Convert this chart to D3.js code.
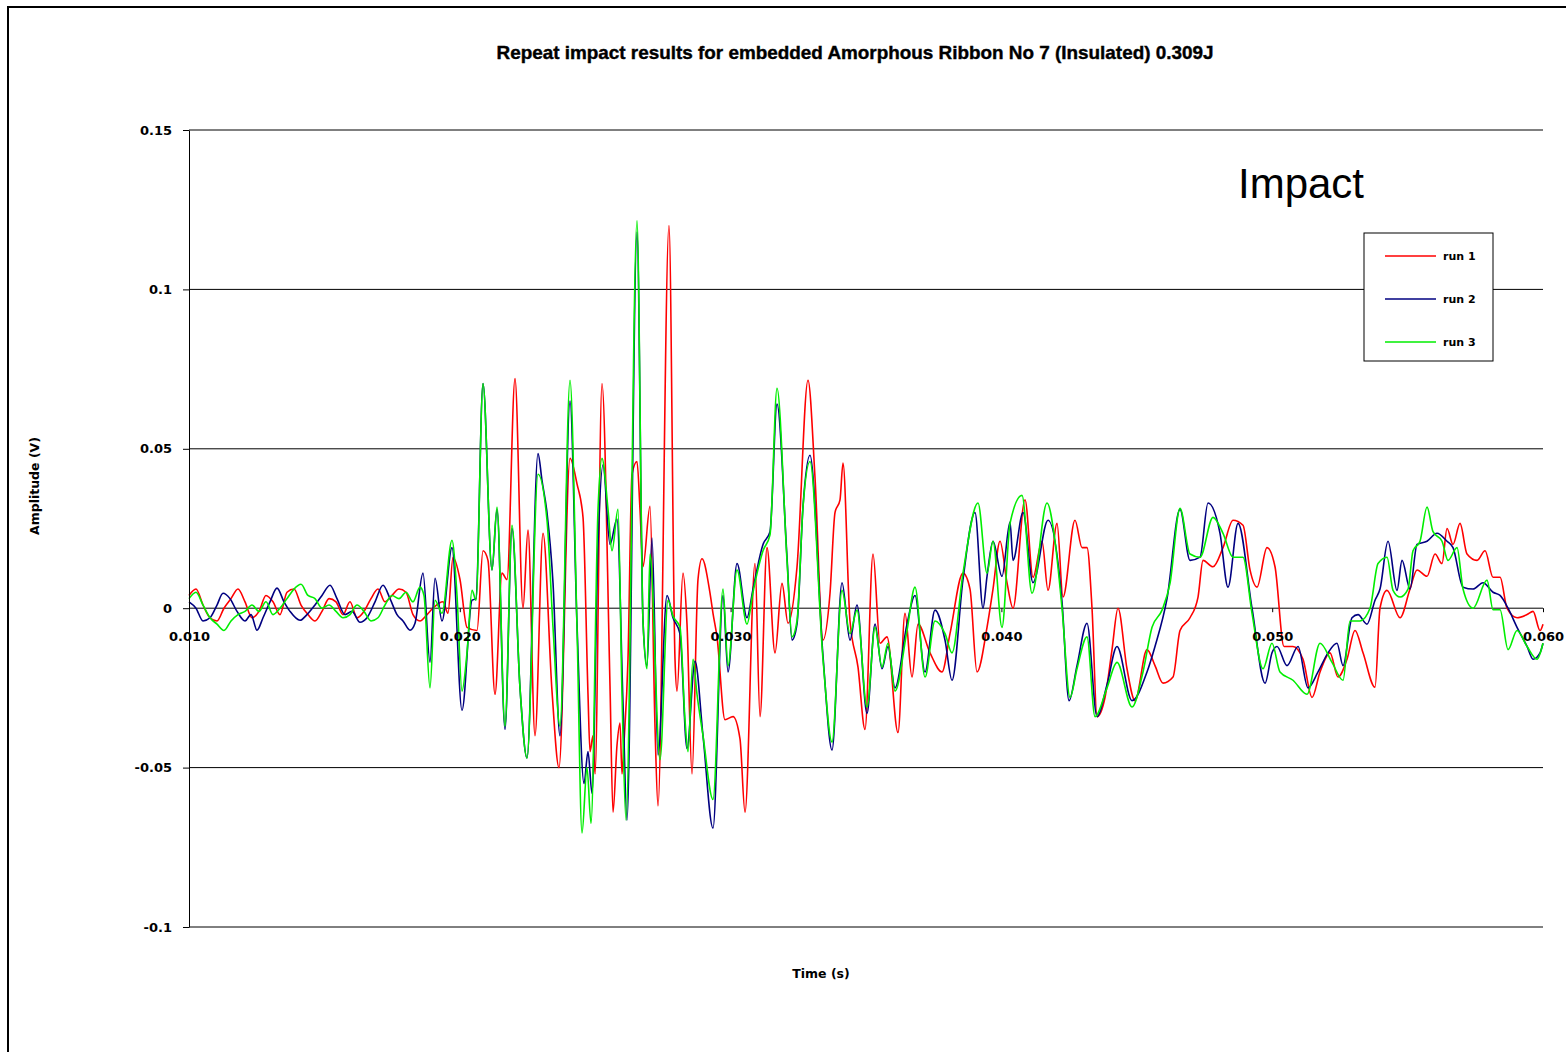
<!DOCTYPE html>
<html>
<head>
<meta charset="utf-8">
<script src="https://cdn.jsdelivr.net/npm/d3@7"></script>
<style>
  body { margin: 0; background: #fff; }
  svg { display: block; }
</style>
</head>
<body>
<svg width="1566" height="1052"></svg>
<script>
// [time (s), amplitude (V)]
const run1 = [
  [0.010000,0.004],[0.010258,0.006],[0.010517,0.001],[0.010775,-0.003],[0.011034,-0.004],[0.011292,0.000],
  [0.011551,0.003],[0.011809,0.006],[0.012068,0.002],[0.012326,-0.003],[0.012585,-0.001],[0.012843,0.004],
  [0.013102,0.002],[0.013360,-0.002],[0.013619,0.005],[0.013877,0.006],[0.014136,0.001],[0.014394,-0.002],
  [0.014653,-0.004],[0.014911,-0.001],[0.015170,0.003],[0.015428,0.002],[0.015687,-0.002],[0.015945,0.002],
  [0.016204,-0.003],[0.016462,-0.001],[0.016721,0.003],[0.016979,0.006],[0.017238,0.002],[0.017496,0.004],
  [0.017755,0.006],[0.018013,0.005],[0.018272,-0.002],[0.018530,-0.004],[0.018789,-0.002],[0.019010,0.000],
  [0.019380,0.002],[0.019564,-0.0016],[0.019749,0.016],[0.020007,0.009],[0.020266,-0.006],[0.020635,-0.007],
  [0.020857,0.018],[0.021041,0.015],[0.021300,-0.027],[0.021558,0.011],[0.021743,0.009],[0.022039,0.072],
  [0.022334,0.000],[0.022519,0.0245],[0.022777,-0.040],[0.023073,0.0235],[0.023405,-0.026],[0.023663,-0.050],
  [0.024070,0.047],[0.024328,0.039],[0.024550,0.0285],[0.024734,-0.027],[0.024808,-0.045],[0.024919,-0.040],
  [0.024993,-0.052],[0.025251,0.0705],[0.025547,-0.0245],[0.025657,-0.064],[0.025805,-0.043],[0.025916,-0.036],
  [0.025990,-0.052],[0.026064,-0.042],[0.026211,-0.016],[0.026359,0.042],[0.026544,0.046],[0.026654,0.031],
  [0.026765,0.013],[0.027024,0.032],[0.027208,-0.037],[0.027319,-0.062],[0.027725,0.120],[0.027947,-0.016],
  [0.028021,-0.026],[0.028242,0.011],[0.028390,-0.005],[0.028575,-0.052],[0.028796,0.009],[0.028944,0.0155],
  [0.029240,0.0047],[0.029350,-0.0016],[0.029498,-0.009],[0.029793,-0.035],[0.030089,-0.034],[0.030347,-0.041],
  [0.030532,-0.064],[0.030901,0.014],[0.031086,-0.034],[0.031344,0.019],[0.031640,-0.014],[0.031898,0.0078],
  [0.032120,-0.0047],[0.032452,0.0129],[0.032858,0.0715],[0.033117,0.041],[0.033412,-0.010],[0.033671,0.0047],
  [0.033855,0.030],[0.034040,0.034],[0.034151,0.0455],[0.034409,-0.004],[0.034705,-0.0185],[0.034963,-0.038],
  [0.035259,0.017],[0.035517,-0.011],[0.035776,-0.009],[0.036182,-0.039],[0.036440,-0.0016],[0.036699,-0.0216],
  [0.036921,-0.005],[0.037364,-0.014],[0.037807,-0.020],[0.038102,-0.008],[0.038582,0.011],[0.038841,0.006],
  [0.039099,-0.020],[0.039469,-0.006],[0.039690,0.006],[0.039949,0.021],[0.040207,0.008],[0.040429,0.000],
  [0.040872,0.034],[0.041167,0.0097],[0.041500,0.021],[0.041721,0.0056],[0.042054,0.0266],[0.042275,0.0035],
  [0.042718,0.0276],[0.042977,0.019],[0.043161,0.019],[0.043346,0.000],[0.043531,-0.034],[0.043826,-0.028],
  [0.044085,-0.013],[0.044306,0.000],[0.044638,-0.019],[0.044934,-0.029],[0.045377,-0.013],[0.045672,-0.018],
  [0.045968,-0.0235],[0.046337,-0.0216],[0.046596,-0.007],[0.046965,-0.003],[0.047261,0.0035],[0.047445,0.015],
  [0.047814,0.013],[0.048184,0.019],[0.048553,0.0276],[0.048922,0.026],[0.049181,0.012],[0.049439,0.0066],
  [0.049808,0.019],[0.050104,0.013],[0.050436,-0.012],[0.050768,-0.012],[0.051138,-0.016],[0.051470,-0.028],
  [0.051766,-0.020],[0.052135,-0.014],[0.052430,-0.0216],[0.052763,-0.016],[0.053058,-0.007],[0.053354,-0.014],
  [0.053797,-0.0248],[0.053981,0.000],[0.054240,0.0056],[0.054720,-0.003],[0.055089,0.006],[0.055348,0.012],
  [0.055717,0.010],[0.056012,0.017],[0.056271,0.014],[0.056456,0.025],[0.056677,0.020],[0.056936,0.0266],
  [0.057194,0.017],[0.057564,0.015],[0.057860,0.018],[0.058155,0.0097],[0.058414,0.0097],[0.058672,0.000],
  [0.059041,-0.003],[0.059411,-0.002],[0.059633,-0.001],[0.059891,-0.007],[0.060000,-0.005]
];

const run2 = [
  [0.010000,0.002],[0.010258,0.000],[0.010517,-0.004],[0.010775,-0.003],[0.011034,0.001],[0.011256,0.0047],
  [0.011514,0.003],[0.011773,-0.001],[0.012068,-0.004],[0.012290,-0.002],[0.012511,-0.0069],[0.012733,-0.003],
  [0.012991,0.002],[0.013250,0.0063],[0.013508,0.002],[0.013730,-0.001],[0.014099,-0.0038],[0.014358,-0.002],
  [0.014653,0.001],[0.014911,0.004],[0.015207,0.0072],[0.015465,0.003],[0.015761,-0.002],[0.016019,-0.001],
  [0.016315,-0.0044],[0.016573,-0.003],[0.016869,0.002],[0.017164,0.0072],[0.017423,0.003],[0.017681,-0.002],
  [0.017903,-0.004],[0.018161,-0.0069],[0.018346,-0.0047],[0.018641,0.011],[0.018900,-0.017],[0.019084,0.0094],
  [0.019343,-0.004],[0.019712,0.019],[0.020081,-0.032],[0.020451,0.0025],[0.020598,0.003],[0.020857,0.0705],
  [0.021189,0.012],[0.021374,0.031],[0.021669,-0.038],[0.021928,0.025],[0.022223,-0.025],[0.022482,-0.047],
  [0.022888,0.0485],[0.023036,0.040],[0.023220,0.030],[0.023442,0.008],[0.023700,-0.040],[0.024070,0.065],
  [0.024328,-0.005],[0.024587,-0.055],[0.024734,-0.045],[0.024882,-0.058],[0.025104,0.020],[0.025288,0.045],
  [0.025547,0.020],[0.025805,0.028],[0.026027,-0.030],[0.026174,-0.0665],[0.026544,0.118],[0.026765,-0.004],
  [0.026913,-0.018],[0.027098,0.022],[0.027319,-0.046],[0.027652,0.004],[0.027873,-0.003],[0.028132,-0.008],
  [0.028390,-0.044],[0.028686,-0.0166],[0.028981,-0.040],[0.029350,-0.069],[0.029720,0.004],[0.029904,-0.020],
  [0.030237,0.014],[0.030606,-0.003],[0.030827,0.006],[0.031197,0.020],[0.031455,0.024],[0.031714,0.064],
  [0.032083,0.016],[0.032268,-0.010],[0.032452,-0.005],[0.032674,0.032],[0.032932,0.048],[0.033412,-0.015],
  [0.033745,-0.0445],[0.034114,0.008],[0.034409,-0.010],[0.034668,0.001],[0.035037,-0.033],[0.035333,-0.005],
  [0.035591,-0.019],[0.035813,-0.012],[0.036071,-0.025],[0.036514,-0.005],[0.036810,0.004],[0.037179,-0.020],
  [0.037548,-0.0006],[0.037918,-0.010],[0.038176,-0.0226],[0.038582,0.009],[0.039025,0.030],[0.039321,0.000],
  [0.039469,0.010],[0.039690,0.021],[0.040022,0.010],[0.040318,0.027],[0.040429,0.015],[0.040798,0.030],
  [0.041167,0.008],[0.041721,0.0276],[0.042238,0.002],[0.042497,-0.029],[0.042792,-0.018],[0.043161,-0.0047],
  [0.043531,-0.034],[0.043900,-0.024],[0.044269,-0.012],[0.044823,-0.029],[0.045377,-0.020],[0.045672,-0.012],
  [0.046116,0.003],[0.046596,0.031],[0.046965,0.015],[0.047334,0.016],[0.047630,0.033],[0.048073,0.0235],
  [0.048368,0.0066],[0.048738,0.0266],[0.049255,0.000],[0.049735,-0.0235],[0.049993,-0.014],[0.050178,-0.012],
  [0.050547,-0.018],[0.050953,-0.012],[0.051322,-0.025],[0.051692,-0.020],[0.052061,-0.014],[0.052393,-0.011],
  [0.052615,-0.018],[0.052947,-0.003],[0.053169,-0.002],[0.053501,-0.005],[0.053797,0.0025],[0.053981,0.006],
  [0.054277,0.021],[0.054609,0.0056],[0.054794,0.015],[0.055089,0.006],[0.055348,0.020],[0.055717,0.021],
  [0.056086,0.0235],[0.056456,0.021],[0.056677,0.019],[0.057047,0.0066],[0.057416,0.006],[0.057786,0.008],
  [0.058155,0.005],[0.058414,0.004],[0.058709,0.000],[0.059041,-0.006],[0.059411,-0.012],[0.059633,-0.016],
  [0.059891,-0.014],[0.060000,-0.011]
];

const run3 = [
  [0.010000,0.003],[0.010258,0.005],[0.010517,0.001],[0.010775,-0.003],[0.011034,-0.005],[0.011292,-0.007],
  [0.011551,-0.004],[0.011809,-0.002],[0.012068,-0.001],[0.012326,0.001],[0.012585,-0.001],[0.012843,0.002],
  [0.013102,-0.002],[0.013360,0.000],[0.013619,0.003],[0.013877,0.006],[0.014136,0.0075],[0.014394,0.004],
  [0.014653,0.003],[0.014911,0.000],[0.015170,0.001],[0.015428,-0.001],[0.015687,-0.003],[0.015945,-0.002],
  [0.016204,0.001],[0.016462,-0.001],[0.016721,-0.004],[0.016979,-0.003],[0.017238,0.001],[0.017496,0.004],
  [0.017755,0.003],[0.018013,0.005],[0.018272,0.002],[0.018530,0.0066],[0.018678,0.004],[0.018900,-0.025],
  [0.019084,0.0025],[0.019343,-0.0016],[0.019712,0.0213],[0.019897,0.004],[0.020081,-0.026],[0.020266,-0.014],
  [0.020451,0.0056],[0.020598,0.0025],[0.020857,0.0705],[0.021189,0.012],[0.021374,0.0317],[0.021669,-0.037],
  [0.021928,0.026],[0.022223,-0.025],[0.022482,-0.047],[0.022888,0.042],[0.023220,0.0276],[0.023442,-0.006],
  [0.023700,-0.037],[0.024070,0.0715],[0.024328,-0.006],[0.024513,-0.0705],[0.024697,-0.050],[0.024845,-0.0675],
  [0.025104,0.031],[0.025251,0.047],[0.025473,0.031],[0.025620,0.018],[0.025842,0.031],[0.025990,-0.027],
  [0.026138,-0.0665],[0.026544,0.1215],[0.026765,-0.004],[0.026913,-0.019],[0.027024,0.017],[0.027393,-0.0475],
  [0.027688,0.0025],[0.027873,-0.0025],[0.028132,-0.006],[0.028316,-0.035],[0.028427,-0.045],[0.028612,-0.016],
  [0.028759,-0.027],[0.028981,-0.040],[0.029350,-0.060],[0.029720,0.006],[0.029904,-0.018],[0.030237,0.012],
  [0.030606,-0.005],[0.030827,0.005],[0.031197,0.018],[0.031455,0.023],[0.031714,0.069],[0.032083,0.015],
  [0.032268,-0.009],[0.032452,-0.004],[0.032674,0.0317],[0.032932,0.046],[0.033412,-0.016],[0.033745,-0.042],
  [0.034114,0.0056],[0.034409,-0.008],[0.034668,-0.0006],[0.035037,-0.031],[0.035333,-0.006],[0.035591,-0.0185],
  [0.035813,-0.011],[0.036071,-0.026],[0.036514,-0.007],[0.036810,0.0066],[0.037179,-0.0216],[0.037548,-0.004],
  [0.037918,-0.008],[0.038176,-0.014],[0.038582,0.011],[0.039136,0.033],[0.039469,0.011],[0.039690,0.021],
  [0.040022,-0.006],[0.040318,0.0266],[0.040761,0.0354],[0.041130,0.0047],[0.041684,0.033],[0.041980,0.021],
  [0.042238,0.000],[0.042534,-0.028],[0.042792,-0.019],[0.043161,-0.009],[0.043457,-0.034],[0.043900,-0.025],
  [0.044269,-0.017],[0.044823,-0.031],[0.045229,-0.020],[0.045562,-0.006],[0.045931,-0.0006],[0.046226,0.0078],
  [0.046596,0.0313],[0.046965,0.017],[0.047334,0.016],[0.047814,0.0285],[0.048184,0.0235],[0.048553,0.016],
  [0.048922,0.016],[0.049255,-0.0016],[0.049661,-0.019],[0.049993,-0.011],[0.050288,-0.020],[0.050768,-0.0226],
  [0.051285,-0.027],[0.051766,-0.011],[0.052209,-0.017],[0.052615,-0.0226],[0.052874,-0.004],[0.053243,-0.004],
  [0.053612,0.000],[0.053908,0.014],[0.054240,0.016],[0.054461,0.0056],[0.054720,0.0035],[0.055016,0.006],
  [0.055200,0.018],[0.055458,0.021],[0.055717,0.0317],[0.055939,0.024],[0.056271,0.021],[0.056493,0.015],
  [0.056825,0.019],[0.057047,0.006],[0.057416,0.000],[0.057933,0.0088],[0.058155,-0.0005],[0.058414,-0.0005],
  [0.058709,-0.013],[0.059041,-0.007],[0.059411,-0.012],[0.059780,-0.016],[0.060000,-0.011]
];

const seriesNames = ['run 1', 'run 2', 'run 3'];
const seriesColors = ['#ff0000', '#000080', '#00ee00'];
const xTicks = [0.010, 0.020, 0.030, 0.040, 0.050, 0.060];
const yTicks = [-0.1, -0.05, 0, 0.05, 0.1, 0.15];

const svg = d3.select('svg');
const width = +svg.attr('width');

const x = d3.scaleLinear().domain([0.010, 0.060]).range([189, 1543]);
const y = d3.scaleLinear().domain([-0.1, 0.15]).range([927, 130]);

const labelFont = 'DejaVu Sans, Verdana, sans-serif';

// outer chart border
svg.append('rect')
  .attr('x', 8).attr('y', 7)
  .attr('width', width + 20).attr('height', 1100)
  .attr('fill', '#fff')
  .attr('stroke', '#000')
  .attr('stroke-width', 2);

// title
svg.append('text')
  .attr('x', 855).attr('y', 59)
  .attr('text-anchor', 'middle')
  .attr('font-family', 'Liberation Sans, Arial, sans-serif')
  .attr('font-weight', 'bold')
  .attr('font-size', 19)
  .attr('stroke', '#000')
  .attr('stroke-width', 0.4)
  .attr('textLength', 717)
  .attr('lengthAdjust', 'spacingAndGlyphs')
  .text('Repeat impact results for embedded Amorphous Ribbon No 7 (Insulated) 0.309J');

// gridlines
svg.append('g')
  .selectAll('line')
  .data(yTicks.filter(d => d !== 0))
  .join('line')
  .attr('x1', x(0.010)).attr('x2', x(0.060))
  .attr('y1', d => y(d)).attr('y2', d => y(d))
  .attr('stroke', '#000')
  .attr('stroke-width', 1);

// zero line (category axis crosses here)
svg.append('line')
  .attr('x1', x(0.010)).attr('x2', x(0.060))
  .attr('y1', y(0)).attr('y2', y(0))
  .attr('stroke', '#000');

// series
const line = d3.line()
  .curve(d3.curveMonotoneX)
  .x(d => x(d[0]))
  .y(d => y(d[1]));

const allRuns = [run1, run2, run3];

svg.append('g')
  .selectAll('path')
  .data(allRuns)
  .join('path')
  .attr('d', line)
  .attr('fill', 'none')
  .attr('stroke', (d, i) => seriesColors[i])
  .attr('stroke-width', 1.6)
  .attr('stroke-linejoin', 'round');

// y axis
const yAxis = svg.append('g')
  .attr('transform', `translate(${x(0.010)},0)`)
  .call(d3.axisLeft(y)
    .tickValues(yTicks)
    .tickSize(6)
    .tickSizeOuter(0)
    .tickPadding(11)
    .tickFormat(d => String(d)));
yAxis.select('.domain').attr('stroke', '#000');
yAxis.selectAll('text')
  .attr('font-family', labelFont)
  .attr('font-weight', 'bold')
  .attr('font-size', 13)
  .attr('fill', '#000');

// x axis on the zero line
const xAxis = svg.append('g')
  .attr('transform', `translate(0,${y(0)})`)
  .call(d3.axisBottom(x)
    .tickValues(xTicks)
    .tickSize(4)
    .tickSizeOuter(0)
    .tickPadding(20)
    .tickFormat(d3.format('.3f')));
xAxis.select('.domain').remove();
xAxis.selectAll('text')
  .attr('font-family', labelFont)
  .attr('font-weight', 'bold')
  .attr('font-size', 13)
  .attr('fill', '#000');

// axis titles
svg.append('text')
  .attr('transform', 'translate(39,486) rotate(-90)')
  .attr('text-anchor', 'middle')
  .attr('font-family', labelFont)
  .attr('font-weight', 'bold')
  .attr('font-size', 12.5)
  .text('Amplitude (V)');

svg.append('text')
  .attr('x', 821).attr('y', 978)
  .attr('text-anchor', 'middle')
  .attr('font-family', labelFont)
  .attr('font-weight', 'bold')
  .attr('font-size', 12.5)
  .text('Time (s)');

// annotation
svg.append('text')
  .attr('x', 1238).attr('y', 198)
  .attr('font-family', 'Liberation Sans, Arial, sans-serif')
  .attr('font-size', 42)
  .text('Impact');

// legend
const legend = svg.append('g').attr('transform', 'translate(1364,233)');
legend.append('rect')
  .attr('width', 129).attr('height', 128)
  .attr('fill', '#fff')
  .attr('stroke', '#000');

const item = legend.selectAll('g.item')
  .data(seriesNames)
  .join('g')
  .attr('class', 'item')
  .attr('transform', (d, i) => `translate(0,${23 + i * 43})`);

item.append('line')
  .attr('x1', 21).attr('x2', 72)
  .attr('stroke', (d, i) => seriesColors[i])
  .attr('stroke-width', 1.4);

item.append('text')
  .attr('x', 79).attr('y', 4)
  .attr('font-family', labelFont)
  .attr('font-weight', 'bold')
  .attr('font-size', 11)
  .text(d => d);
</script>
</body>
</html>
